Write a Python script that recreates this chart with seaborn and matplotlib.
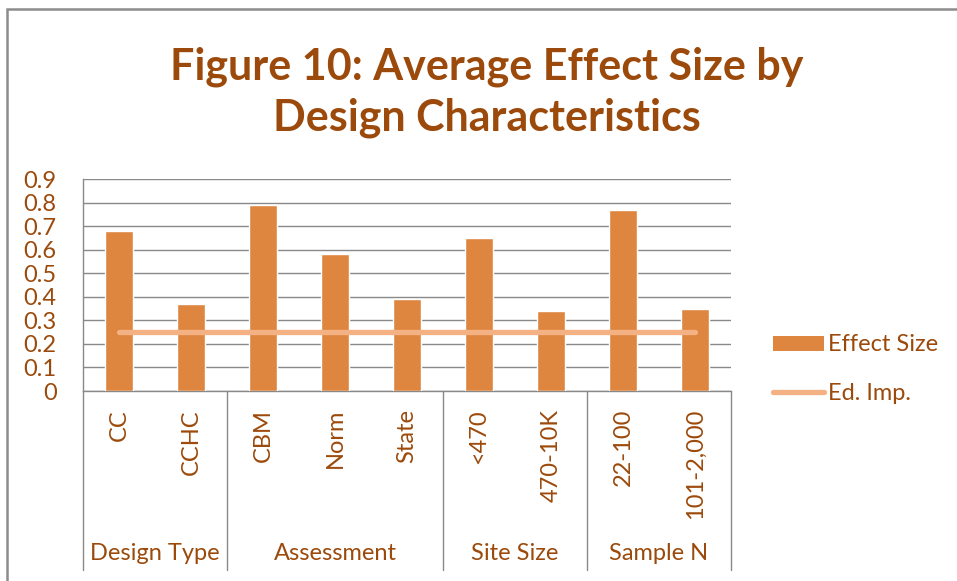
import matplotlib
matplotlib.use("Agg")
import matplotlib.pyplot as plt
import matplotlib.transforms as mtransforms
from matplotlib.patches import Rectangle, Patch
from matplotlib.lines import Line2D
import seaborn as sns
import pandas as pd

# data
categories = ["CC", "CCHC", "CBM", "Norm", "State", "<470", "470-10K", "22-100", "101-2,000"]
effect_size = [0.68, 0.37, 0.79, 0.58, 0.39, 0.65, 0.34, 0.77, 0.35]
ed_imp = [0.25] * len(categories)
groups = ["Design Type", "Assessment", "Site Size", "Sample N"]
group_sizes = [2, 3, 2, 2]

BROWN = "#9C4A0B"
BAR = "#DE8640"
LINE = "#F4B183"
GRID = "#898989"
FS = 17

sns.set_style("white")
plt.rcParams["font.family"] = ["Lato", "DejaVu Sans"]

df = pd.DataFrame({"cat": categories, "effect": effect_size, "ed": ed_imp})

fig = plt.figure(figsize=(9.57, 5.81), dpi=100)
ax = fig.add_axes([83 / 957, 1 - 391 / 581, 648 / 957, 212 / 581])

sns.barplot(data=df, x="cat", y="effect", color=BAR, width=0.4,
            saturation=1, ax=ax, zorder=3)
sns.lineplot(data=df, x="cat", y="ed", color=LINE, lw=3.8, ax=ax,
             zorder=4, solid_capstyle="round")

ax.set_ylim(0, 0.9)
ax.set_xlim(-0.5, len(categories) - 0.5)
ax.set_yticks([i / 10 for i in range(10)])
ax.set_yticklabels(["0"] + [f"0.{i}" for i in range(1, 10)])
ax.yaxis.grid(True, color=GRID, lw=1.0, zorder=0)
ax.set_axisbelow(True)
ax.set_xlabel("")
ax.set_ylabel("")
for s in ["top", "right"]:
    ax.spines[s].set_visible(False)
for s in ["left", "bottom"]:
    ax.spines[s].set_color(GRID)
    ax.spines[s].set_linewidth(1.0)

ax.tick_params(axis="y", length=0, pad=19, labelsize=FS, labelcolor=BROWN)
ax.tick_params(axis="x", length=0, pad=13, labelsize=FS, labelcolor=BROWN)
for lab in ax.get_xticklabels():
    lab.set_rotation(90)
    lab.set_va("top")
    lab.set_ha("center")

# grouped category axis
trans = mtransforms.blended_transform_factory(ax.transData, ax.transAxes)
bottom = -(570 - 391) / 212
edges = [-0.5]
for n in group_sizes:
    edges.append(edges[-1] + n)
for e in edges:
    ax.plot([e, e], [0, bottom], transform=trans, color=GRID, lw=1.0,
            clip_on=False, zorder=1)
for g, a, b in zip(groups, edges[:-1], edges[1:]):
    ax.text((a + b) / 2, -(553 - 391) / 212, g, transform=trans,
            ha="center", va="center", fontsize=FS, color=BROWN)

# legend
handles = [Patch(facecolor=BAR, edgecolor="none", label="Effect Size"),
           Line2D([0], [0], color=LINE, lw=3.8, solid_capstyle="round",
                  label="Ed. Imp.")]
fig.legend(handles=handles, loc="center left",
           bbox_to_anchor=(752 / 957, 1 - 369 / 581), frameon=False,
           fontsize=FS, labelcolor=BROWN, handlelength=2.15,
           handleheight=0.6, handletextpad=0.15, labelspacing=1.15)

# title
fig.text(0.509, 1 - 92 / 581,
         "Figure 10: Average Effect Size by\nDesign Characteristics",
         ha="center", va="center", fontsize=31, fontweight="bold",
         color=BROWN, linespacing=1.32)

# chart frame
fig.patches.append(Rectangle((7 / 957, -0.1), 1.1, 1 - 9 / 581 + 0.1,
                             transform=fig.transFigure, fill=False,
                             edgecolor="#8C8C8C", lw=1.8))

fig.savefig("out.png", dpi=100)
